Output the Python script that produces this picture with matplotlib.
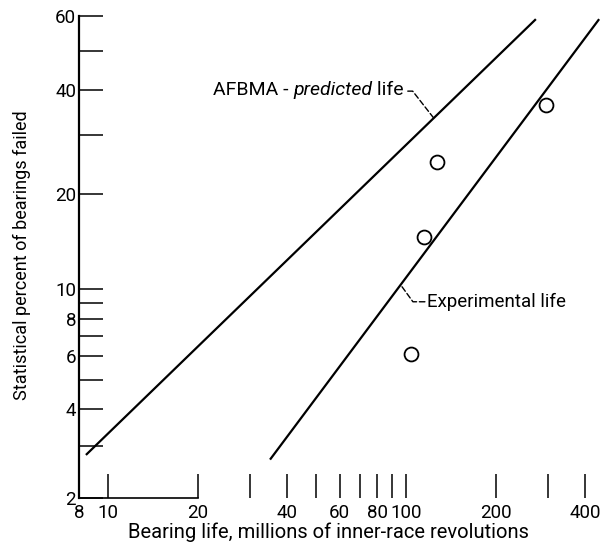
import numpy as np
import matplotlib
matplotlib.use('Agg')
import matplotlib.pyplot as plt
from matplotlib.ticker import FixedLocator, NullLocator, FixedFormatter

plt.rcParams['font.family'] = ['Roboto', 'DejaVu Sans']

# AFBMA - predicted life line (end points)
afbma_life = [8.44, 273]
afbma_pct = [2.8, 59]

# Experimental life line (end points)
exp_life = [35, 445]
exp_pct = [2.7, 59]

# Test points
test_life = [104, 115, 127, 295]
test_pct = [6.1, 14.7, 25.0, 36.4]

# Axis ticks
x_ticks = [8, 10, 20, 30, 40, 50, 60, 70, 80, 90, 100, 200, 300, 400]
x_labels = ['8', '10', '20', '', '40', '', '60', '', '80', '', '100', '200', '', '400']
y_ticks = [2, 3, 4, 5, 6, 7, 8, 9, 10, 20, 30, 40, 50, 60]
y_labels = ['2', '', '4', '', '6', '', '8', '', '10', '20', '', '40', '', '60']

FS = 13


def weibull(p):
  p = np.clip(np.asarray(p, dtype=float), 1e-6, 99.9999)
  return np.log(-np.log(1 - p / 100.0))


def weibull_inv(y):
  return 100.0 * (1 - np.exp(-np.exp(np.asarray(y, dtype=float))))


def point_on(xs, ys, x):
  # point on a straight line in log / weibull space
  lx = np.log10(xs)
  wy = weibull(ys)
  t = (np.log10(x) - lx[0]) / (lx[1] - lx[0])
  return x, float(weibull_inv(wy[0] + t * (wy[1] - wy[0])))


fig = plt.figure(figsize=(6.02, 5.5), dpi=100)
ax = fig.add_axes([79 / 602, 52 / 550, 523 / 602, 482.3 / 550])

ax.set_xscale('log')
ax.set_yscale('function', functions=(weibull, weibull_inv))
ax.set_xlim(8, 455)
ax.set_ylim(2, 60)

# Lines and points
ax.plot(afbma_life, afbma_pct, color='black', lw=1.6, solid_capstyle='butt')
ax.plot(exp_life, exp_pct, color='black', lw=1.6, solid_capstyle='butt')
ax.plot(test_life, test_pct, 'o', mfc='none', mec='black', ms=10, mew=1.3)

# Spines
ax.spines['top'].set_visible(False)
ax.spines['right'].set_visible(False)
ax.spines['left'].set_linewidth(1.6)
ax.spines['bottom'].set_linewidth(1.2)
ax.spines['bottom'].set_bounds(8, 20)

# Ticks
ax.xaxis.set_major_locator(FixedLocator(x_ticks))
ax.xaxis.set_major_formatter(FixedFormatter(x_labels))
ax.xaxis.set_minor_locator(NullLocator())
ax.yaxis.set_major_locator(FixedLocator(y_ticks))
ax.yaxis.set_major_formatter(FixedFormatter(y_labels))
ax.yaxis.set_minor_locator(NullLocator())
ax.tick_params(axis='both', direction='in', length=17.5, width=1.1,
               labelsize=FS + 0.5, colors='black')
ax.tick_params(axis='x', pad=4)
ax.tick_params(axis='y', pad=2)

# Axis titles
fig.text(328 / 602, 1 - 532 / 550, 'Bearing life, millions of inner-race revolutions',
         ha='center', va='center', fontsize=FS + 1.5)
fig.text(22 / 602, 1 - 255 / 550, 'Statistical percent of bearings failed',
         ha='center', va='center', rotation=90, fontsize=FS)

# AFBMA label with italic word
t1 = ax.text(0.256, 0.836, 'AFBMA - ', transform=ax.transAxes,
             ha='left', va='baseline', fontsize=FS + 1)
t2 = ax.annotate('predicted', xy=(1, 0), xycoords=t1, ha='left', va='bottom',
                 fontsize=FS + 1, style='italic')
t3 = ax.annotate(' life', xy=(1, 0), xycoords=t2, ha='left', va='bottom',
                 fontsize=FS + 1)

dash = dict(arrowstyle='-', linestyle=(0, (4, 2)), lw=1.0, color='black',
            shrinkA=0, shrinkB=0)

ax.annotate('', xy=point_on(afbma_life, afbma_pct, 124), xytext=(-18.7, 19.4),
            textcoords='offset points',
            arrowprops=dict(connectionstyle='angle,angleA=0,angleB=128,rad=0', **dash))

# Experimental label
ax.text(0.665, 0.396, 'Experimental life', transform=ax.transAxes,
        ha='left', va='baseline', fontsize=FS + 0.5)
ax.annotate('', xy=point_on(exp_life, exp_pct, 96), xytext=(17.5, -12.2),
            textcoords='offset points',
            arrowprops=dict(connectionstyle='angle,angleA=0,angleB=126,rad=0', **dash))

fig.savefig('out.png', dpi=100)
